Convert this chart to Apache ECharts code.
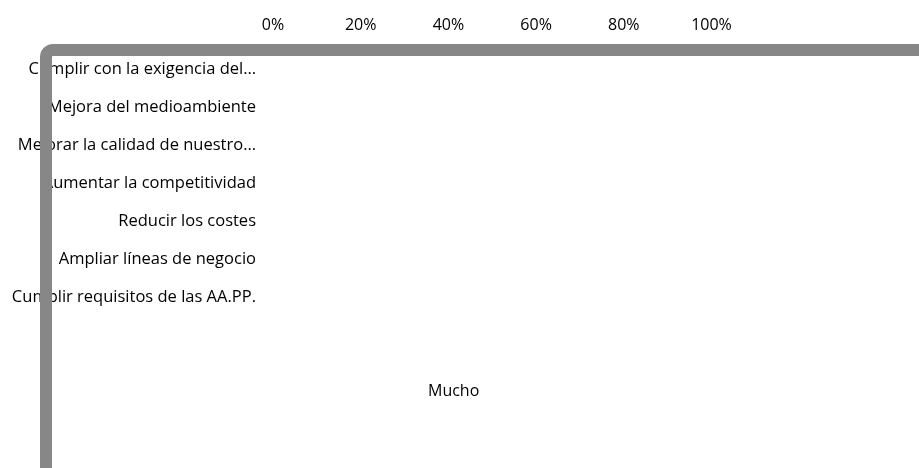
<!DOCTYPE html>
<html><head><meta charset="utf-8">
<script src="https://cdn.jsdelivr.net/npm/echarts@6/dist/echarts.min.js"></script>
<style>html,body{margin:0;padding:0;background:#fff}#c{width:919px;height:468px}</style>
</head><body><div id="c"></div>
<script>
const categories = [
  "Cumplir con la exigencia del…",
  "Mejora del medioambiente",
  "Mejorar la calidad de nuestro…",
  "Aumentar la competitividad",
  "Reducir los costes",
  "Ampliar líneas de negocio",
  "Cumplir requisitos de las AA.PP."
];
const seriesName = "Mucho";
const muchoValues = [0, 0, 0, 0, 0, 0, 0];
const xTicks = [0, 20, 40, 60, 80, 100];

const FONT = "Open Sans";
const FS = 16.5;
const chart = echarts.init(document.getElementById('c'));
chart.setOption({
  animation: false,
  grid: { left: 273, right: 207.5, top: 50, bottom: 152 },
  xAxis: {
    type: 'value', position: 'top', min: xTicks[0], max: xTicks[xTicks.length-1], interval: 20,
    axisLine: { show: false }, axisTick: { show: false }, splitLine: { show: false },
    axisLabel: { formatter: '{value}%', color: '#000', fontFamily: FONT, fontSize: 16, margin: 17 }
  },
  yAxis: {
    type: 'category', data: categories, inverse: true,
    axisLine: { show: false }, axisTick: { show: false },
    axisLabel: { color: '#000', fontFamily: FONT, fontSize: FS, margin: 17 }
  },
  legend: {
    data: [seriesName], left: 423, top: 383, padding: 0, icon: 'none', itemWidth: 0, itemGap: 0,
    textStyle: { color: '#000', fontFamily: FONT, fontSize: 16, padding: 0 }
  },
  series: [{ name: seriesName, type: 'bar', stack: 'a', data: muchoValues, itemStyle: { color: '#fff' } }],
  graphic: [{
    type: 'rect', z: 100, silent: true,
    shape: { x: 46, y: 50, width: 1200, height: 1200, r: 7 },
    style: { fill: null, stroke: '#878787', lineWidth: 12 }
  }]
});
</script></body></html>
